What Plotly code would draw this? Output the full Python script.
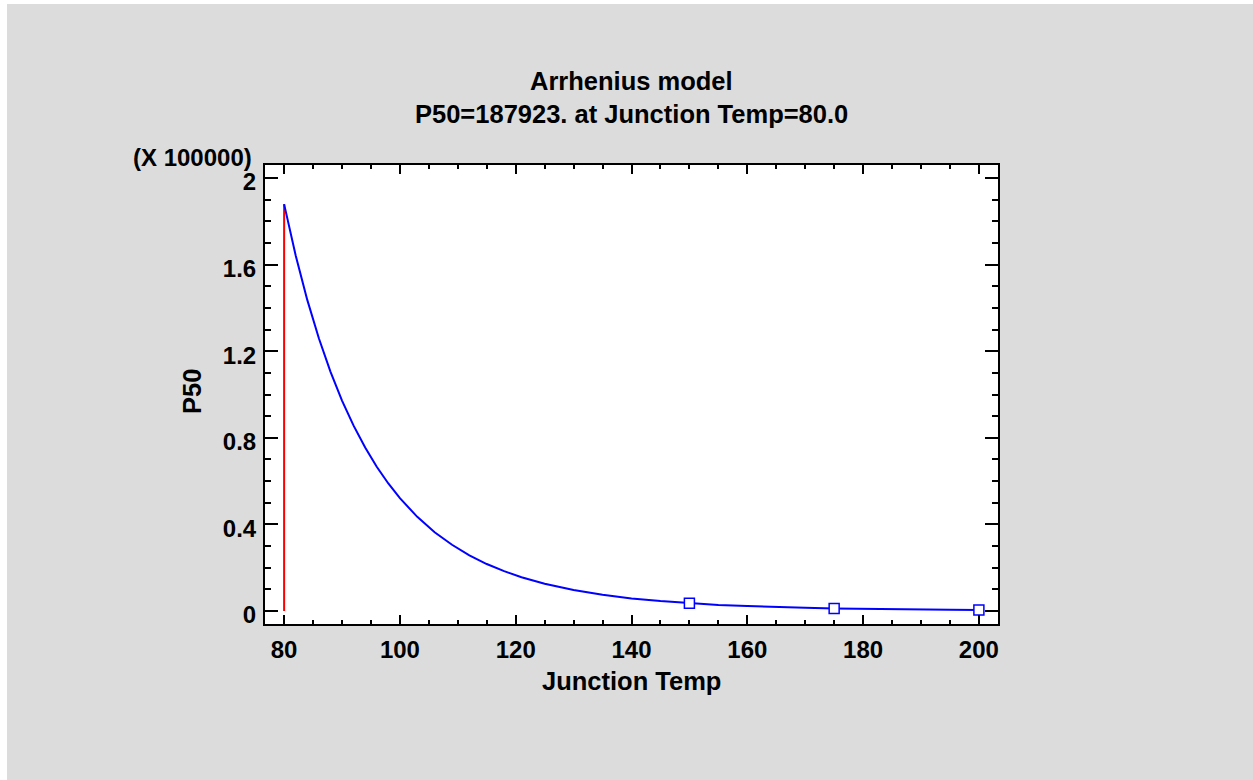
import plotly.graph_objects as go

# Fitted P50 curve (Junction Temp vs P50)
junction_temp = [80, 82, 84, 86, 88, 90, 92, 94, 96, 98, 100, 103, 106, 109, 112, 115,
                 118, 121, 125, 130, 135, 140, 145, 150, 155, 160, 165, 170, 175,
                 180, 185, 190, 195, 200]
p50_curve = [187923, 164200, 143700, 126000, 110600, 97200, 85600, 75500, 66600, 58900,
             52100, 43500, 36400, 30600, 25700, 21700, 18400, 15600, 12600, 9700,
             7500, 5800, 4600, 3600, 2800, 2300, 1800, 1500, 1200, 960, 780, 640, 530, 430]

# Observed points (open squares)
obs_temp = [150, 175, 200]
obs_p50 = [3600, 1200, 430]

# Reference line at the chosen temperature
ref_temp = [80, 80]
ref_p50 = [0, 187923]

SCALE = 100000.0
FONT = "Liberation Sans, Arial, sans-serif"

fig = go.Figure()
fig.add_trace(go.Scatter(x=ref_temp, y=[v / SCALE for v in ref_p50], mode="lines",
                         line=dict(color="#FF0000", width=2), showlegend=False,
                         hoverinfo="skip"))
fig.add_trace(go.Scatter(x=junction_temp, y=[v / SCALE for v in p50_curve], mode="lines",
                         line=dict(color="#0000FF", width=2), showlegend=False))
fig.add_trace(go.Scatter(x=obs_temp, y=[v / SCALE for v in obs_p50], mode="markers",
                         marker=dict(symbol="square", size=10, color="white",
                                     line=dict(color="#0000FF", width=1.5)),
                         showlegend=False))

L, R, T, B = 265, 998, 165, 624
W, H = 1253, 780
pw, ph = R - L, B - T

def px(x):
    return (x - L) / pw

def py(y):
    return (B - y) / ph

axis_common = dict(showline=True, linecolor="black", linewidth=2, mirror="ticks",
                   ticks="inside", tickcolor="black", tickwidth=2, showgrid=False,
                   zeroline=False,
                   tickfont=dict(family=FONT, size=24, color="black", weight="bold"))

fig.update_xaxes(range=[76.7, 203.3], tick0=80, dtick=20, ticklen=9,
                 ticklabelstandoff=3,
                 minor=dict(ticks="inside", dtick=5, ticklen=4, tickwidth=1.5,
                            tickcolor="black", showgrid=False),
                 **axis_common)
fig.update_yaxes(range=[-0.06, 2.06], tick0=0, dtick=0.4, ticklen=13,
                 ticklabelstandoff=2, ticklabelshift=4,
                 minor=dict(ticks="inside", dtick=0.1, ticklen=6, tickwidth=1.5,
                            tickcolor="black", showgrid=False),
                 **axis_common)

bold = dict(family=FONT, size=25.5, color="black", weight="bold")
annotations = [
    dict(text="Arrhenius model", x=0.5, y=py(81), xref="paper", yref="paper",
         xanchor="center", yanchor="middle", showarrow=False, font=bold),
    dict(text="P50=187923. at Junction Temp=80.0", x=0.5, y=py(114), xref="paper",
         yref="paper", xanchor="center", yanchor="middle", showarrow=False, font=bold),
    dict(text="(X 100000)", x=px(254), y=py(158), xref="paper", yref="paper",
         xanchor="right", yanchor="middle", showarrow=False,
         font=dict(family=FONT, size=24, color="black", weight="bold")),
    dict(text="Junction Temp", x=px(631), y=py(681), xref="paper", yref="paper",
         xanchor="center", yanchor="middle", showarrow=False, font=bold),
    dict(text="P50", x=px(192), y=py(392), xref="paper", yref="paper", textangle=-90,
         xanchor="center", yanchor="middle", showarrow=False, font=bold),
]

shapes = [
    dict(type="rect", xref="paper", yref="paper", x0=px(0), x1=px(W), y0=py(0), y1=py(4),
         fillcolor="white", line=dict(width=0), layer="below"),
    dict(type="rect", xref="paper", yref="paper", x0=px(0), x1=px(7), y0=py(0), y1=py(H),
         fillcolor="white", line=dict(width=0), layer="below"),
]

fig.update_layout(width=W, height=H, margin=dict(l=L, r=W - R, t=T, b=H - B),
                  paper_bgcolor="#DCDCDC", plot_bgcolor="white",
                  annotations=annotations, shapes=shapes, showlegend=False)

fig.write_html("out.html", config={"displayModeBar": False},
               post_script="document.body.style.margin='0px';")
